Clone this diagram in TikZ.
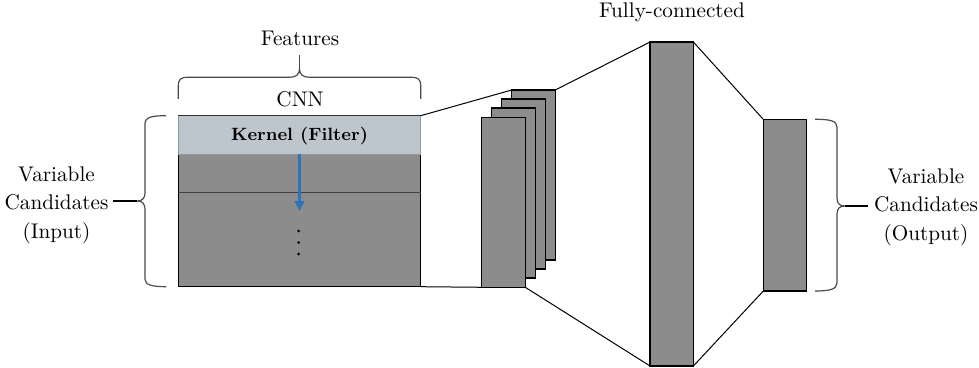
\documentclass[tikz,border=0pt]{standalone}
\usepackage{fontspec}
\usetikzlibrary{arrows.meta}
\definecolor{boxgray}{HTML}{8C8C8C}
\definecolor{bandfill}{HTML}{BEC6CD}
\definecolor{bandedge}{HTML}{8D9AA6}
\definecolor{bracegray}{HTML}{4A4A4A}
\definecolor{arrowblue}{HTML}{2E75B6}
\begin{document}
\begin{tikzpicture}[x=0.5pt,y=-0.5pt,
  layer/.style={draw=black,line width=0.7pt,fill=boxgray,inner sep=0pt,outer sep=0pt,
                minimum width=21.75pt,minimum height=85pt},
  link/.style={draw=black,line width=0.5pt},
  brace/.style={draw=bracegray,line width=0.6pt},
  bracetip/.style={draw=black,line width=0.9pt},
  lbl/.style={font=\fontsize{10.6}{14.25}\selectfont,inner sep=0pt,align=center}]
\useasboundingbox (0,0) rectangle (979,368);

% convolution input block with the kernel band
\node[layer,minimum width=121.2pt,minimum height=85.5pt] (cnn) at (299.5,201.2) {};
\node[draw=bandedge,fill=bandfill,line width=0.5pt,inner sep=0pt,outer sep=0pt,
      minimum width=121.2pt,minimum height=19.3pt,anchor=north] (kernel) at (cnn.north) {};
\draw[black!80,line width=0.6pt] (kernel.north west) -- (kernel.north east);
\node[font=\bfseries\fontsize{8.9}{12}\selectfont,inner sep=0pt,anchor=base] (kerneltext) at (299.5,141) {Kernel (Filter)};
\coordinate (rowL) at (178.3,192.7);
\coordinate (rowR) at (420.7,192.7);
\draw[black!75,line width=0.8pt] (rowL) -- (rowR);
\coordinate (arrowend) at (299.5,211);
\draw[arrowblue,line width=1.3pt,-{Triangle[length=5pt,width=4.8pt]}] (kernel.south) -- (arrowend);
\foreach \yy in {231,242.5,254} \fill (298.5,\yy) circle[radius=0.75pt];

% stacked feature maps
\node[layer] (l4) at (533.5,175) {};
\node[layer] (l3) at (523.5,184.1) {};
\node[layer] (l2) at (513.5,193.2) {};
\node[layer] (l1) at (503.5,202.3) {};

% fully-connected layer and output
\node[layer,minimum width=21.65pt,minimum height=162pt] (fc) at (671.7,204) {};
\node[layer,minimum width=21.7pt,minimum height=85.85pt] (out) at (785,205.2) {};

% projection lines
\draw[link] (cnn.north east) -- (l4.north west);
\draw[link] (cnn.south east) -- (l1.south west);
\draw[link] (l4.north east) -- (fc.north west);
\draw[link] (l1.south east) -- (fc.south west);
\draw[link] (fc.north east) -- (out.north west);
\draw[link] (fc.south east) -- (out.south west);

% brace over the feature axis
\draw[brace] (178.3,99) -- (178.3,86) .. controls (178.3,79) and (181,77.3) .. (188,77.3)
  -- (289,77.3) .. controls (296,77.3) and (299.5,75) .. (299.5,68)
  .. controls (299.5,75) and (303,77.3) .. (310,77.3) -- (411,77.3)
  .. controls (418,77.3) and (420.7,79) .. (420.7,86) -- (420.7,99);
\draw[brace] (299.5,68) -- (299.5,55);

% brace for the input candidates
\draw[brace] (166,115.7) .. controls (152,115.7) and (145,117) .. (145,124) -- (145,192)
  .. controls (145,199) and (142,201) .. (137,201)
  .. controls (142,201) and (145,203) .. (145,210) -- (145,279)
  .. controls (145,285) and (152,286.7) .. (166,286.7);
\draw[bracetip] (137,201) -- (113,201);

% brace for the output candidates
\draw[brace] (815,119.3) .. controls (829,119.3) and (837,120.5) .. (837,127) -- (837,198)
  .. controls (837,204) and (840,206) .. (845,206)
  .. controls (840,206) and (837,208) .. (837,214) -- (837,283)
  .. controls (837,289.5) and (829,291) .. (815,291);
\draw[bracetip] (845,206) -- (868,206);

% labels
\node[lbl,anchor=base] (features) at (300,46) {Features};
\node[lbl,anchor=base] (cnnlabel) at (300,107) {CNN};
\node[lbl,anchor=base] (fclabel) at (672,18) {Fully-connected};
\node[lbl] (inlabel) at (56.5,205) {Variable\\Candidates\\(Input)};
\node[lbl] (outlabel) at (926,207) {Variable\\Candidates\\(Output)};
\end{tikzpicture}
\end{document}
